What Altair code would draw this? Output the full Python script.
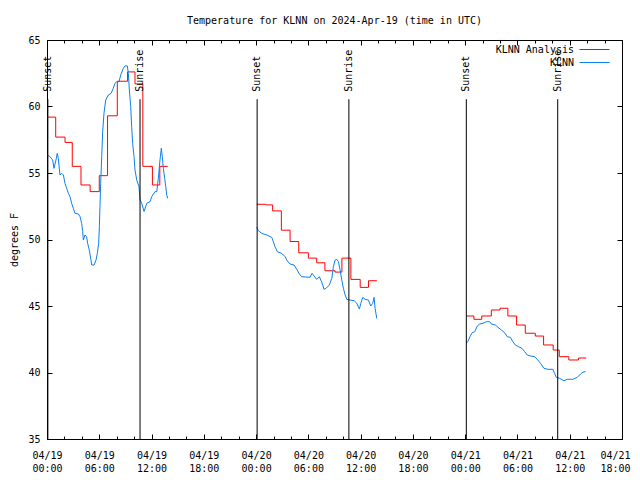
import altair as alt
import pandas as pd

BASE = pd.Timestamp("2024-04-19T00:00:00Z")
MONO = "DejaVu Sans Mono"

# ---- KLNN Analysis (hours since 04/19 00:00 UTC, deg F) ----
ana1_h = [0.0, 1.0, 2.07, 2.9, 3.9, 4.95, 6.0, 6.95, 8.07, 9.25, 10.1, 11.0, 12.1, 12.95, 13.86]
ana1_t = [59.2, 57.7, 57.3, 55.5, 54.1, 53.6, 54.8, 59.3, 61.9, 62.6, 61.7, 55.5, 54.1, 55.5, 55.5]
ana2_h = [24.07, 25.1, 25.9, 26.9, 27.9, 28.9, 30.0, 30.96, 31.9, 33.06, 33.85, 34.88, 35.95, 36.9, 37.86]
ana2_t = [52.65, 52.6, 52.15, 50.7, 49.85, 49.0, 48.6, 48.25, 47.65, 47.55, 48.6, 47.0, 46.4, 46.9, 46.9]
ana3_h = [48.1, 49.0, 49.9, 51.0, 52.0, 52.9, 53.9, 54.9, 56.05, 57.0, 58.1, 58.8, 59.9, 61.0, 61.9]
ana3_t = [44.25, 44.0, 44.25, 44.7, 44.83, 44.25, 43.57, 42.95, 42.74, 42.07, 41.69, 41.19, 40.94, 41.09, 41.09]

# ---- KLNN observations ----
obs1_h = [0.04, 0.34, 0.65, 0.80, 1.03, 1.18, 1.30, 1.49, 1.69, 1.88, 2.07, 2.26, 2.45, 2.64, 2.83,
          3.02, 3.21, 3.60, 3.79, 3.98, 4.10, 4.17, 4.36, 4.55, 4.67, 4.86, 5.01, 5.13, 5.40, 5.63,
          5.78, 5.93, 6.01, 6.08, 6.16, 6.28, 6.39, 6.54, 6.74, 7.04, 7.35, 7.61, 7.80, 8.00, 8.27,
          8.46, 8.76, 8.96, 9.22, 9.34, 9.45, 9.61, 9.72, 9.83, 9.99, 10.10, 10.30, 10.56, 10.68,
          10.87, 11.14, 11.45, 11.83, 12.02, 12.40, 12.60, 12.78, 12.97, 13.12, 13.24, 13.35, 13.51,
          13.63, 13.74, 13.86]
obs1_t = [56.35, 56.23, 55.98, 55.35, 55.98, 56.48, 56.1, 54.85, 54.98, 54.85, 54.2, 53.85, 53.47, 53.22, 52.72,
          52.35, 51.97, 51.92, 51.72, 51.2, 50.6, 49.96, 50.34, 50.2, 49.7, 49.2, 48.6, 48.08, 48.08, 48.46,
          48.96, 49.7, 50.96, 52.47, 54.2, 56.23, 58.1, 59.49, 60.49, 60.86, 60.99, 61.37, 61.74, 61.87, 61.87,
          62.37, 62.87, 63.05, 63.05, 62.49, 61.24, 59.99, 58.48, 57.23, 56.23, 55.23, 54.47, 53.97, 52.97,
          52.72, 52.1, 52.72, 52.85, 53.22, 53.6, 53.6, 54.6, 55.98, 56.86, 56.23, 55.35, 54.6,
          53.97, 53.35, 53.1]
obs2_h = [24.07, 24.26, 24.65, 25.22, 25.8, 25.98, 26.17, 26.44, 26.94, 27.32, 27.59, 27.9, 28.36, 28.66,
          28.97, 29.24, 30.2, 30.42, 30.65, 30.96, 31.26, 31.46, 31.65, 31.8, 32.03, 32.41, 32.69, 32.87,
          33.07, 33.26, 33.45, 33.64, 33.84, 34.02, 34.22, 34.41, 34.79, 35.25, 35.56, 35.86, 36.02, 36.25,
          36.51, 36.89, 37.16, 37.39, 37.54, 37.66, 37.85]
obs2_t = [50.92, 50.66, 50.46, 50.34, 50.16, 49.84, 49.46, 49.08, 48.96, 48.71, 48.38, 48.16, 48.08, 47.76,
          47.41, 47.2, 47.16, 47.46, 47.26, 47.0, 47.2, 46.9, 46.58, 46.25, 46.33, 46.58, 47.08, 47.95,
          48.46, 48.51, 48.33, 47.71, 46.95, 46.33, 45.83, 45.5, 45.45, 45.4, 45.2, 44.77, 45.2, 45.65,
          45.5, 45.45, 45.0, 45.2, 45.65, 44.83, 44.07]
obs3_h = [48.1, 48.3, 48.55, 48.8, 49.1, 49.4, 49.67, 50.05, 50.43, 50.81, 51.0, 51.46, 51.76, 52.15,
          52.53, 52.83, 53.2, 53.47, 53.75, 54.12, 54.51, 54.82, 55.12, 55.5, 55.96, 56.27, 56.65, 57.03,
          57.49, 58.07, 58.26, 58.45, 58.84, 59.33, 59.72, 60.36, 60.87, 61.25, 61.51, 61.82]
obs3_t = [42.19, 42.32, 42.69, 42.99, 43.07, 43.5, 43.65, 43.7, 43.82, 43.82, 43.65, 43.57, 43.4, 43.2,
          42.99, 42.69, 42.64, 42.32, 42.07, 41.94, 41.82, 41.57, 41.32, 41.24, 41.19, 40.99, 40.69, 40.32,
          40.24, 40.24, 39.94, 39.64, 39.56, 39.38, 39.49, 39.49, 39.64, 39.89, 40.02, 40.07]

# ---- Sun events ----
sun_h = [0.1, 10.68, 24.12, 34.65, 48.13, 58.62]
sun_label = ["Sunset", "Sunrise", "Sunset", "Sunrise", "Sunset", "Sunrise"]

series_names = ["KLNN Analysis", "KLNN"]
series_colors = ["#ff0000", "#0a80f0"]


def iso(h):
    return (BASE + pd.Timedelta(hours=h)).strftime("%Y-%m-%dT%H:%M:%SZ")


def frame(name, segs):
    rows = []
    for i, (hs, ts) in enumerate(segs):
        for h, t in zip(hs, ts):
            rows.append({"series": name, "seg": i, "time": iso(h), "temp": t})
    return pd.DataFrame(rows)


ana_df = frame("KLNN Analysis", [(ana1_h, ana1_t), (ana2_h, ana2_t), (ana3_h, ana3_t)])
obs_df = frame("KLNN", [(obs1_h, obs1_t), (obs2_h, obs2_t), (obs3_h, obs3_t)])
sun_df = pd.DataFrame({"time": [iso(h) for h in sun_h], "label": sun_label})


def dt(h):
    d = BASE + pd.Timedelta(hours=h)
    return alt.DateTime(year=d.year, month=d.month, date=d.day, hours=d.hour, utc=True)


major_vals = [dt(h) for h in range(0, 67, 6)]
minor_vals = [dt(h) for h in range(0, 67, 2)]

xscale = alt.Scale(type="utc", domain=[dt(0), dt(66)], nice=False)
yscale = alt.Scale(domain=[35, 65], nice=False, zero=False)
y_vals = [35, 40, 45, 50, 55, 60, 65]

MAJ = 5
MIN = 3

color = alt.Color(
    "series:N",
    scale=alt.Scale(domain=series_names, range=series_colors),
    legend=alt.Legend(
        title=None,
        orient="none",
        legendX=542,
        legendY=4,
        symbolType="M-3,0H3",
        symbolSize=100,
        symbolStrokeWidth=1,
        labelAlign="right",
        labelOffset=alt.ExprRef(expr="-26"),
        labelFont=MONO,
        labelFontSize=10,
        labelColor="black",
        rowPadding=2,
        padding=0,
    ),
)

ana = alt.Chart(ana_df).mark_line(interpolate="step-after", strokeWidth=1).encode(
    x=alt.X("time:T", scale=xscale, title=None,
            axis=alt.Axis(orient="bottom", values=major_vals, tickSize=MAJ, offset=-MAJ,
                          labelPadding=11, labelLineHeight=13, labelBaseline="top",
                          labelFlush=False, labelOverlap=False,
                          labelOffset={"condition": {"test": "datum.value >= utc(2024, 3, 21, 17)", "value": -7},
                                       "value": 0},
                          labelExpr="[utcFormat(datum.value, '%m/%d'), utcFormat(datum.value, '%H:%M')]")),
    y=alt.Y("temp:Q", scale=yscale, title="degrees F",
            axis=alt.Axis(orient="left", values=y_vals, tickSize=MAJ, offset=-MAJ,
                          labelPadding=7, titlePadding=8, labelFlush=False, labelOverlap=False)),
    color=color,
    detail="seg:N",
)

obs = alt.Chart(obs_df).mark_line(strokeWidth=1).encode(
    x=alt.X("time:T", scale=xscale, title=None,
            axis=alt.Axis(orient="bottom", values=minor_vals, tickSize=MIN, offset=-MIN, labels=False)),
    y=alt.Y("temp:Q", scale=yscale, title=None,
            axis=alt.Axis(orient="right", values=y_vals, tickSize=MAJ, offset=-MAJ, labels=False)),
    color=color,
    detail="seg:N",
)

rules = alt.Chart(sun_df).mark_rule(color="black", strokeWidth=1).encode(
    x=alt.X("time:T", scale=xscale, title=None,
            axis=alt.Axis(orient="top", values=major_vals, tickSize=MAJ, offset=-MAJ, labels=False)),
    y=alt.YDatum(60.55, axis=None),
    y2=alt.datum(35),
)

labels = alt.Chart(sun_df).mark_text(angle=270, align="left", baseline="middle",
                                     font=MONO, fontSize=10, color="black").encode(
    x=alt.X("time:T", scale=xscale, title=None,
            axis=alt.Axis(orient="top", values=minor_vals, tickSize=MIN, offset=-MIN, labels=False)),
    y=alt.YDatum(61.1, axis=None),
    text="label:N",
)

chart = alt.layer(ana, obs, rules, labels).resolve_axis(
    x="independent", y="independent"
).properties(
    width=575,
    height=399,
    padding={"left": 39, "top": 32, "right": 10, "bottom": 33},
    autosize=alt.AutoSizeParams(type="none"),
    background="white",
    title=alt.TitleParams(
        "Temperature for KLNN on 2024-Apr-19 (time in UTC)",
        font=MONO, fontSize=10, fontWeight="normal", anchor="middle", offset=9, color="black",
    ),
).configure_view(
    stroke="black", strokeWidth=1
).configure_axis(
    grid=False, domain=False, tickColor="black", labelColor="black", titleColor="black",
    labelFont=MONO, labelFontSize=10, titleFont=MONO, titleFontSize=10, titleFontWeight="normal",
)

chart.save("out.html", embed_options={"renderer": "svg", "actions": False})
